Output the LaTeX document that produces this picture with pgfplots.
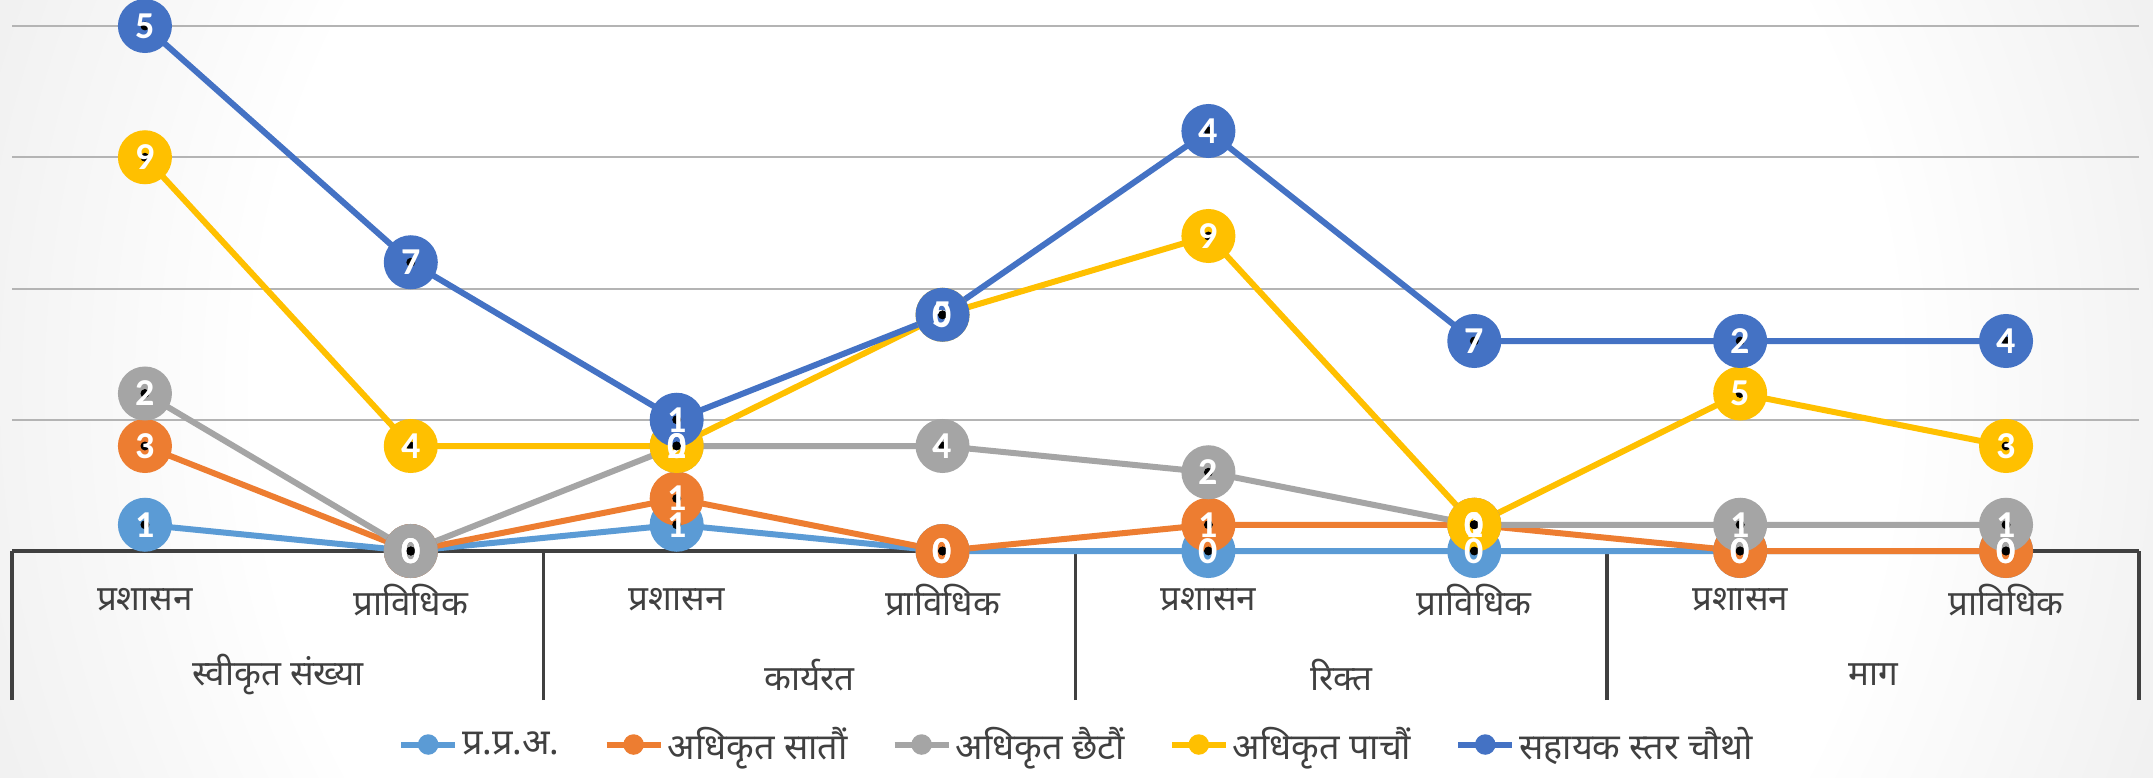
\documentclass[border=0pt]{standalone}
\usepackage{pgfplots}
\pgfplotsset{compat=1.18}
\usepackage{pgfplotstable}
\usepackage{fontspec}
\setmainfont[Script=Devanagari]{Noto Sans}
\newfontfamily\numfont{Carlito}
\definecolor{cA}{HTML}{5B9BD5}
\definecolor{cB}{HTML}{ED7D31}
\definecolor{cC}{HTML}{A5A5A5}
\definecolor{cD}{HTML}{FFC000}
\definecolor{cE}{HTML}{4472C4}
\definecolor{txt}{HTML}{404040}
\definecolor{gridc}{HTML}{B4B4B4}
\definecolor{bgA}{gray}{0.94}
\definecolor{bgB}{gray}{0.875}
\definecolor{bgD}{gray}{0.83}
\definecolor{bgC}{gray}{0.79}
\pgfdeclareradialshading{bgshade}{\pgfpoint{0bp}{0bp}}{color(0bp)=(white); color(19bp)=(white); color(27bp)=(bgA); color(36bp)=(bgB); color(44bp)=(bgD); color(50bp)=(bgC)}

\pgfplotstableread{
x a b c d e
0 1 3 2 9 5
1 0 0 0 4 7
2 1 1 2 0 1
3 0 0 4 5 0
4 0 1 2 9 4
5 0 1 0 0 7
6 0 0 1 5 2
7 0 0 1 3 4
}\data

\begin{document}
\begin{tikzpicture}
\fill[bgC] (-6pt,-113pt) rectangle (1070.5pt,275.5pt);
\begin{scope}
\clip (-6pt,-113pt) rectangle (1070.5pt,275.5pt);
\shade[shading=bgshade] (-6pt,-457pt) rectangle (1070.5pt,619.5pt);
\end{scope}
\path[use as bounding box] (-6pt,-113pt) rectangle (1070.5pt,275.5pt);
\fill[white, opacity=0.35] (178pt,-83pt) rectangle (888pt,-110.5pt);

\begin{axis}[
  at={(0,0)}, anchor=south west,
  scale only axis, width=1063.5pt, height=262.5pt,
  xmin=-0.5, xmax=7.5, ymin=0, ymax=20,
  clip=false,
  axis line style={draw=none},
  stack plots=y, reverse stacked plots=false,
  ytick={5,10,15,20}, yticklabels={},
  ymajorgrids, major grid style={draw=gridc, line width=1pt},
  extra y ticks={0}, extra y tick labels={},
  extra y tick style={major grid style={draw=txt, line width=1.75pt}},
  xtick={0,...,7},
  xticklabels={प्रशासन,प्राविधिक,प्रशासन,प्राविधिक,प्रशासन,प्राविधिक,प्रशासन,प्राविधिक},
  xtick pos=bottom, ytick pos=left,
  major tick length=0pt,
  xticklabel style={font=\fontsize{17.5}{20}\selectfont, text=txt, anchor=center, yshift=-24.5pt},
  extra x ticks={-0.5,1.5,3.5,5.5,7.5}, extra x tick labels={},
  extra x tick style={major tick length=74.5pt, tick align=outside, xtick pos=bottom, tick style={draw=txt, line width=1.75pt}},
  legend columns=5,
  legend style={at={(0.501,-0.3686)}, anchor=center, draw=none, fill=none,
    font=\fontsize{18}{20}\selectfont, text=txt,
    /tikz/every even column/.append style={column sep=20pt}},
  legend image code/.code={\draw[mark repeat=2,mark phase=2,#1,mark size=3.6pt] plot coordinates {(0pt,0pt) (13.5pt,0pt) (27pt,0pt)};},
]
\addplot[cA, line width=3pt, mark=*, mark size=12pt] table[x=x,y=a] {\data};
\addlegendentry{प्र.प्र.अ.}
\addplot[cB, line width=3pt, mark=*, mark size=12pt] table[x=x,y=b] {\data};
\addlegendentry{अधिकृत सातौं}
\addplot[cC, line width=3pt, mark=*, mark size=12pt] table[x=x,y=c] {\data};
\addlegendentry{अधिकृत छैटौं}
\addplot[cD, line width=3pt, mark=*, mark size=12pt] table[x=x,y=d] {\data};
\addlegendentry{अधिकृत पाचौं}
\addplot[cE, line width=3pt, mark=*, mark size=12pt] table[x=x,y=e] {\data};
\addlegendentry{सहायक स्तर चौथो}
\node[font=\fontsize{17.5}{20}\selectfont, text=txt] at (axis cs:0.5,0) [yshift=-62pt] {स्वीकृत संख्या};
\node[font=\fontsize{17.5}{20}\selectfont, text=txt] at (axis cs:2.5,0) [yshift=-62pt] {कार्यरत};
\node[font=\fontsize{17.5}{20}\selectfont, text=txt] at (axis cs:4.5,0) [yshift=-62pt] {रिक्त};
\node[font=\fontsize{17.5}{20}\selectfont, text=txt] at (axis cs:6.5,0) [yshift=-62pt] {माग};
\end{axis}

\begin{axis}[
  at={(0,0)}, anchor=south west,
  scale only axis, width=1063.5pt, height=262.5pt,
  xmin=-0.5, xmax=7.5, ymin=0, ymax=20,
  clip=false, hide axis,
  stack plots=y, reverse stacked plots=false,
  point meta=explicit symbolic,
  nodes near coords={\numfont\bfseries\fontsize{19}{19}\selectfont\color{white}\pgfplotspointmeta},
  every node near coord/.append style={anchor=center, inner sep=0pt},
]
\addplot[only marks, mark=*, mark options={draw=none, fill=none}] table[x=x,y=a,meta=a] {\data};
\addplot[only marks, mark=*, mark options={draw=none, fill=none}] table[x=x,y=b,meta=b] {\data};
\addplot[only marks, mark=*, mark options={draw=none, fill=none}] table[x=x,y=c,meta=c] {\data};
\addplot[only marks, mark=*, mark options={draw=none, fill=none}] table[x=x,y=d,meta=d] {\data};
\addplot[only marks, mark=*, mark options={draw=none, fill=none}] table[x=x,y=e,meta=e] {\data};
\end{axis}
\end{tikzpicture}
\end{document}
